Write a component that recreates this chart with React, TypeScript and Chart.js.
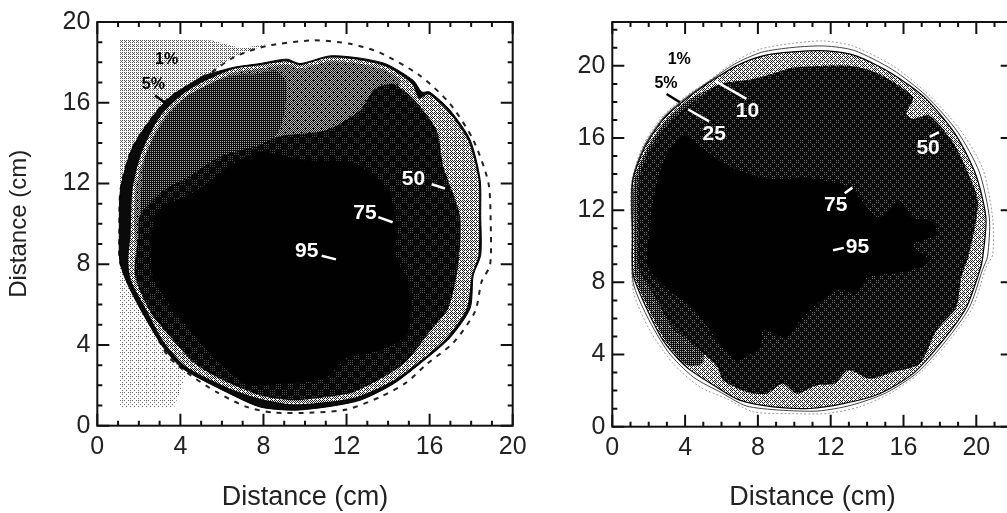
import React, { useEffect, useRef } from "react";
import { Chart, registerables } from "chart.js";

Chart.register(...registerables);

type P = [number, number];

const xTickLabels = [0, 4, 8, 12, 16, 20];
const axisTitle = "Distance (cm)";

// ---------- left panel contours (cm)
const L_stippleUpper: P[] = [[1.1,19.14],[3,19.14],[5.5,19.1],[6.9,18.7],[8.2,18.9],[6.55,18.24],[5.1,17.18],[3.5,16.28],[2.54,15.14],[1.65,13.67],[1.12,11.71],[1.1,9]];
const L_stippleLower: P[] = [[1.1,8.1],[1.57,6.97],[2.37,5.5],[3.34,3.54],[4.3,2.64],[3.7,0.9],[1.1,0.9]];
const L_c1: P[] = [[5.1,17.18],[6.55,18.24],[8.15,18.81],[10.4,19.09],[12.17,18.92],[13.61,18.48],[15.54,17.34],[16.98,15.95],[18.1,14.16],[18.83,12.04],[18.94,10.08],[18.91,7.96],[18.5,7.13],[18.19,5.66],[17.14,4.11],[15.86,3.05],[14.9,2.15],[13.61,1.42],[12,0.8],[10.4,0.65],[8.48,0.65],[7.19,0.93],[5.75,1.66],[4.3,2.64],[3.34,3.54],[2.37,5.5],[1.57,6.97],[1.09,8.11],[1.06,9.43],[1.12,11.71],[1.65,13.67],[2.54,15.14],[3.5,16.28]];
const L_c5: P[] = [[5.1,17.34],[6.55,17.75],[7.83,17.94],[9.12,18.16],[9.76,17.94],[11.2,18.32],[12.65,18.21],[13.93,17.91],[15.22,17.1],[15.62,16.53],[16,16.53],[16.98,15.63],[17.95,14.16],[18.43,12.2],[18.46,10.41],[18.46,8.45],[18.1,7.46],[17.95,5.82],[16.98,4.36],[15.7,3.21],[14.25,2.07],[12.65,1.26],[11.04,0.93],[9.44,0.77],[7.83,0.93],[6.23,1.66],[4.14,2.81],[3.18,3.87],[2.05,5.82],[1.41,7.13],[1.09,8.11],[1.06,9.43],[1.12,11.71],[1.65,13.67],[2.54,15.14],[3.5,16.28]];
const L_c10: P[] = [[5.14,17.06],[6.55,17.67],[7.83,17.86],[9.12,18.04],[9.76,17.86],[11.2,18.24],[12.65,18.11],[13.93,17.78],[15.14,16.93],[15.5,16.2],[15.95,16.41],[16.9,15.55],[17.87,14.08],[18.35,12.2],[18.38,10.41],[18.35,8.45],[18.03,7.46],[17.79,5.82],[16.82,4.36],[15.54,3.21],[14.09,2.15],[12.49,1.42],[11.04,1.17],[9.44,1.06],[7.83,1.34],[6.23,1.91],[4.22,2.97],[3.18,4.19],[2.37,5.74],[1.65,7.13],[1.49,8.11],[1.6,9.43],[1.7,11.71],[2.13,13.51],[3.02,15.3],[4.14,16.44]];
const L_c25: P[] = [[5.3,16.9],[6.6,17.5],[7.9,17.7],[9.1,17.9],[9.8,17.7],[11.2,18.05],[12.6,17.95],[13.9,17.6],[14.6,17],[13,15],[10,14],[6,12],[3,9],[1.9,9],[1.85,11.71],[2.3,13.4],[3.15,15.2],[4.25,16.3]];
const L_c50: P[] = [[2.05,10.5],[2.3,13.3],[3.2,15.1],[4.3,16.3],[5.8,17.1],[6.9,17.4],[7.5,17.4],[8.6,17.6],[9.1,17],[8.9,15],[8.2,13.9],[6.9,13.2],[5,12.5],[3,11]];
const L_c75: P[] = [[1.97,9.43],[2.05,10.41],[3.02,11.55],[4.46,12.37],[5.91,13.34],[7.83,13.91],[8.64,14.32],[11.04,14.65],[12.65,15.63],[13.37,16.69],[14.25,16.93],[15.22,16.2],[16.34,14.65],[16.66,12.85],[17.46,10.41],[17.38,7.96],[16.9,5.82],[16.02,4.68],[14.9,3.21],[13.77,2.4],[12.33,1.66],[11.04,1.42],[9.44,1.26],[7.83,1.5],[5.91,2.32],[4.62,3.13],[3.82,4.03],[2.54,5.66],[1.81,7.46]];
const L_c95: P[] = [[2.54,9.43],[3.02,10.73],[4.62,11.55],[6.87,13.18],[7.99,13.59],[9.76,13.18],[12.33,13.02],[13.93,11.79],[14.41,10.08],[14.41,8.29],[15.06,6.97],[14.9,4.52],[13.45,3.7],[12,3.38],[10.88,2.32],[8.64,2.07],[7.19,2.07],[5.75,3.21],[4.62,4.52],[3.5,5.99],[2.7,7.29]];
const L_labels: [string, number, number, string][] = [["1%",3.34,18.16,"#000"],["5%",2.7,16.88,"#000"],["50",15.22,12.2,"#fff"],["75",12.89,10.54,"#fff"],["95",10.08,8.66,"#fff"]];
const L_leaders: [P, P, string][] = [[[2.78,16.36],[3.34,15.95],"#000"],[[16.1,11.96],[16.74,11.75],"#fff"],[[13.53,10.33],[14.22,10.08],"#fff"],[[10.8,8.42],[11.49,8.24],"#fff"]];

// ---------- right panel contours (cm)
const R_c1: P[] = [[5.17,19.08],[6.64,20.18],[8.1,20.92],[9.93,21.25],[11.58,21.38],[13.22,21.1],[15.41,20],[17.24,18.53],[19.07,16.51],[20.35,14.31],[20.9,11.56],[20.9,9.54],[20.53,8.81],[19.8,6.61],[18.52,4.77],[17.06,3.12],[15.41,1.93],[13.58,1.1],[11.76,0.73],[9.56,0.73],[7.73,0.83],[6.27,1.56],[4.81,2.2],[3.35,3.49],[2.07,5.32],[1.15,7.52],[1.06,10.64],[1.06,13.58],[1.7,15.6],[2.8,17.25],[4.08,18.35]];
const R_c5: P[] = [[5.17,19.04],[6.72,20.1],[8.2,20.75],[9.93,21.02],[11.67,21.1],[13.3,20.85],[15.41,19.78],[17.24,18.35],[18.98,16.33],[20.16,14.13],[20.72,11.56],[20.62,9.45],[20.35,8.72],[19.62,6.61],[18.34,4.77],[16.8,3.03],[15.05,1.88],[13.13,1.19],[11.3,0.87],[9.2,0.92],[7.36,1.15],[6,1.88],[4.45,2.75],[3.08,4.13],[1.9,6.14],[1.15,7.98],[1.09,10.64],[1.09,13.58],[1.75,15.55],[2.85,17.2],[4.12,18.3]];
const R_c10: P[] = [[5.17,18.99],[6.82,20],[8.28,20.55],[9.93,20.77],[11.76,20.83],[13.4,20.55],[15.41,19.54],[17.24,18.17],[18.89,16.15],[19.98,13.95],[20.53,11.56],[20.35,9.36],[20.18,8.62],[19.45,6.61],[18.16,4.77],[16.52,2.94],[14.69,1.83],[12.68,1.28],[10.84,1.01],[8.83,1.1],[7,1.47],[5.72,2.2],[4.08,3.3],[2.8,4.77],[1.7,6.97],[1.15,8.44],[1.12,10.64],[1.12,13.58],[1.79,15.5],[2.89,17.16],[4.17,18.26]];
const R_c25: P[] = [[5.6,18.85],[4.17,18.1],[2.95,17],[1.9,15.4],[1.2,13.58],[1.2,10.64],[1.25,8.44],[1.8,6.97],[2.9,4.8],[4.1,3.4],[5,3.6],[5,10],[5.5,17]];
const R_c50: P[] = [[6.27,19.08],[7.73,19.27],[9.01,19.63],[9.93,19.91],[13.04,20],[14.69,19.54],[16.52,18.26],[16.15,17.34],[16.52,17.06],[17.43,17.25],[18.71,15.78],[19.36,14.5],[20.09,12.48],[19.6,9.54],[19.17,8.26],[18.9,6.61],[17.8,5.32],[16.89,3.49],[15.43,3.03],[14.14,2.66],[12.95,3.12],[12.22,2.39],[11.21,2.29],[10.11,1.83],[9.38,2.39],[8.47,1.83],[7.37,1.93],[6.09,2.57],[5.72,3.39],[4.08,4.86],[3.35,5.41],[2.25,7.34],[1.43,8.81],[1.43,10.64],[1.43,13.58],[2.07,15.41],[3.16,16.88],[4.44,17.98],[5.72,18.9]];
const R_c95: P[] = [[1.97,10.28],[2.25,12.48],[2.8,14.68],[3.89,16.15],[4.99,15.41],[6.27,14.5],[8.47,13.76],[11.03,13.76],[13.22,13.21],[13.58,12.66],[14.69,11.56],[15.78,12.48],[16.52,11.56],[17.61,11.38],[17.79,10.64],[16.52,10.09],[17.43,9.17],[16.15,8.62],[14.87,8.44],[13.96,8.26],[13.4,7.34],[12.49,7.61],[11.21,6.79],[10.3,5.87],[9.57,4.95],[8.28,5.32],[8.1,4.4],[6.82,3.67],[6.09,4.4],[4.99,5.87],[4.44,6.61],[3.16,7.52],[1.97,8.81]];
const R_labels: [string, number, number, string][] = [["1%",3.68,20.33,"#000"],["5%",2.95,18.99,"#000"],["10",7.43,17.49,"#fff"],["25",5.6,16.22,"#fff"],["50",17.35,15.41,"#fff"],["75",12.28,12.29,"#fff"],["95",13.47,9.96,"#fff"]];
const R_leaders: [P, P, string][] = [[[2.98,18.44],[3.71,17.98],"#000"],[[5.64,19.17],[7.37,18.17],"#fff"],[[4.17,17.58],[5.32,16.92],"#fff"],[[17.44,16.06],[17.95,16.33],"#fff"],[[12.77,12.94],[13.19,13.25],"#fff"],[[12.13,9.78],[12.72,9.91],"#fff"]];

// ---------- halftone screens
const BAYER = [[0,32,8,40,2,34,10,42],[48,16,56,24,50,18,58,26],[12,44,4,36,14,46,6,38],[60,28,52,20,62,30,54,22],[3,35,11,43,1,33,9,41],[51,19,59,27,49,17,57,25],[15,47,7,39,13,45,5,37],[63,31,55,23,61,29,53,21]];

function screen(size: number, paint: (x: number, y: number) => string) {
  const c = document.createElement("canvas");
  c.width = c.height = size;
  const g = c.getContext("2d")!;
  for (let y = 0; y < size; y++) for (let x = 0; x < size; x++) {
    g.fillStyle = paint(x, y);
    g.fillRect(x, y, 1, 1);
  }
  return g.createPattern(c, "repeat")!;
}
const halftone = (density: number, ink = "#000", paper = "#fff") =>
  screen(8, (x, y) => (BAYER[y][x] / 64 < density ? ink : paper));
const clumped = (cell: number, ink: string, dot: string) =>
  screen(cell * 2, (x, y) => {
    const on = (Math.floor(x / cell) + Math.floor(y / cell)) % 2 === 0;
    return on && x % 2 === 0 && y % 2 === 0 ? dot : ink;
  });

const closed = (pts: P[]) => [...pts, pts[0]].map(([x, y]) => ({ x, y }));

function area(pts: P[], fill: any, border = "rgba(0,0,0,0)", width = 0, dash: number[] = [], tension = 0.25) {
  return { data: closed(pts), showLine: true, pointRadius: 0, tension, fill: "shape", backgroundColor: fill, borderColor: border, borderWidth: width, borderDash: dash };
}
function leader(l: [P, P, string]) {
  return { data: [{ x: l[0][0], y: l[0][1] }, { x: l[1][0], y: l[1][1] }], showLine: true, pointRadius: 0, fill: false, borderColor: l[2], borderWidth: 2.5 };
}

const FONT = "'Liberation Sans', Arial, sans-serif";

const frame = (labels: [string, number, number, string][]) => ({
  id: "frame",
  afterDatasetsDraw(c: any) {
    const { ctx, chartArea: a, scales: { x, y } } = c;
    ctx.save();
    ctx.textAlign = "center";
    ctx.textBaseline = "middle";
    for (const [t, lx, ly, col] of labels) {
      ctx.font = `bold ${t.includes("%") ? 16 : 21}px ${FONT}`;
      ctx.fillStyle = col;
      ctx.fillText(t, x.getPixelForValue(lx), y.getPixelForValue(ly));
    }
    ctx.strokeStyle = "#111";
    ctx.lineWidth = 2;
    ctx.strokeRect(a.left, a.top, a.right - a.left, a.bottom - a.top);
    ctx.beginPath();
    for (let v = x.min; v <= x.max; v++) {
      const p = x.getPixelForValue(v), len = v % 4 === 0 ? 12 : 5;
      ctx.moveTo(p, a.bottom); ctx.lineTo(p, a.bottom - len);
      ctx.moveTo(p, a.top); ctx.lineTo(p, a.top + len);
    }
    for (let v = Math.ceil(y.min); v <= y.max; v++) {
      const p = y.getPixelForValue(v), len = v % 4 === 0 ? 12 : 5;
      ctx.moveTo(a.left, p); ctx.lineTo(a.left + len, p);
      ctx.moveTo(a.right, p); ctx.lineTo(a.right - len, p);
    }
    ctx.stroke();
    ctx.restore();
  },
});

function options(xMax: number, yMax: number, yWidth: number, right: number, top: number, xHeight: number, yTitle: boolean) {
  const tickFont = { family: FONT, size: 25 };
  return {
    animation: false,
    responsive: false,
    layout: { padding: { top, right, left: 0, bottom: 0 } },
    plugins: { legend: { display: false }, tooltip: { enabled: false } },
    scales: {
      x: {
        type: "linear", min: 0, max: xMax,
        grid: { display: false, drawTicks: false }, border: { display: false },
        afterBuildTicks: (s: any) => { s.ticks = xTickLabels.map((value) => ({ value })); },
        afterFit: (s: any) => { s.height = xHeight; },
        ticks: { font: tickFont, color: "#222", padding: 6, maxRotation: 0, autoSkip: false },
        title: { display: true, text: axisTitle, font: { family: FONT, size: 27, lineHeight: 1 }, color: "#222", padding: { top: 0, bottom: 2 } },
      },
      y: {
        type: "linear", min: 0, max: yMax,
        grid: { display: false, drawTicks: false }, border: { display: false },
        afterBuildTicks: (s: any) => { s.ticks = xTickLabels.map((value) => ({ value })); },
        afterFit: (s: any) => { s.width = yWidth; },
        ticks: { font: tickFont, color: "#222", padding: 7, autoSkip: false },
        title: { display: yTitle, text: axisTitle, font: { family: FONT, size: 24 }, color: "#222", padding: { top: 5, bottom: 0 } },
      },
    },
  };
}

export default function App() {
  const left = useRef<HTMLCanvasElement>(null);
  const right = useRef<HTMLCanvasElement>(null);
  useEffect(() => {
    const gray95 = "#010101";
    const dotsLeft = clumped(6, "#070707", "#4e4e4e");
    const dotsRight = clumped(4, "#0a0a0a", "#6c6c6c");
    // Chart.js paints the first dataset on top, so the stack is listed innermost first.
    const leftChart = new Chart(left.current!, {
      type: "scatter",
      data: {
        datasets: [
          ...L_leaders.map(leader),
          area(L_c95, gray95),
          area(L_c75, dotsLeft),
          area(L_c50, halftone(0.74, "#111", "#aaa")),
          area(L_c25, halftone(0.52, "#111", "#bbb")),
          area(L_c10, halftone(0.42, "#222")),
          area(L_c5, "#0a0a0a", "#000", 1),
          area(L_c1, "#fff", "#222", 2, [5, 6]),
          area(L_stippleLower, halftone(0.14, "#666"), undefined, 0, [], 0),
          area(L_stippleUpper, halftone(0.3, "#555"), undefined, 0, [], 0),
        ] as any,
      },
      options: options(20, 20, 97.3, 27.3, 17.3, 87.3, true) as any,
      plugins: [frame(L_labels)],
    });
    const rightChart = new Chart(right.current!, {
      type: "scatter",
      data: {
        datasets: [
          ...R_leaders.map(leader),
          area(R_c95, gray95),
          area(R_c50, dotsRight),
          area(R_c25, halftone(0.72, "#111", "#aaa")),
          area(R_c10, halftone(0.4, "#222"), "#000", 1.2),
          area(R_c5, "#fff", "#444", 1),
          area(R_c1, "#fff", "#999", 1, [2, 2]),
        ] as any,
      },
      options: options(22, 22.43, 72.3, 500 - (1012.7 - 540), 19.3, 86.3, false) as any,
      plugins: [frame(R_labels)],
    });
    return () => { leftChart.destroy(); rightChart.destroy(); };
  }, []);
  return (
    <div style={{ position: "fixed", inset: 0, overflow: "hidden", background: "#fff" }}>
      <canvas ref={left} width={540} height={513} style={{ position: "absolute", left: 0, top: 0 }} />
      <canvas ref={right} width={500} height={513} style={{ position: "absolute", left: 540, top: 0 }} />
    </div>
  );
}
